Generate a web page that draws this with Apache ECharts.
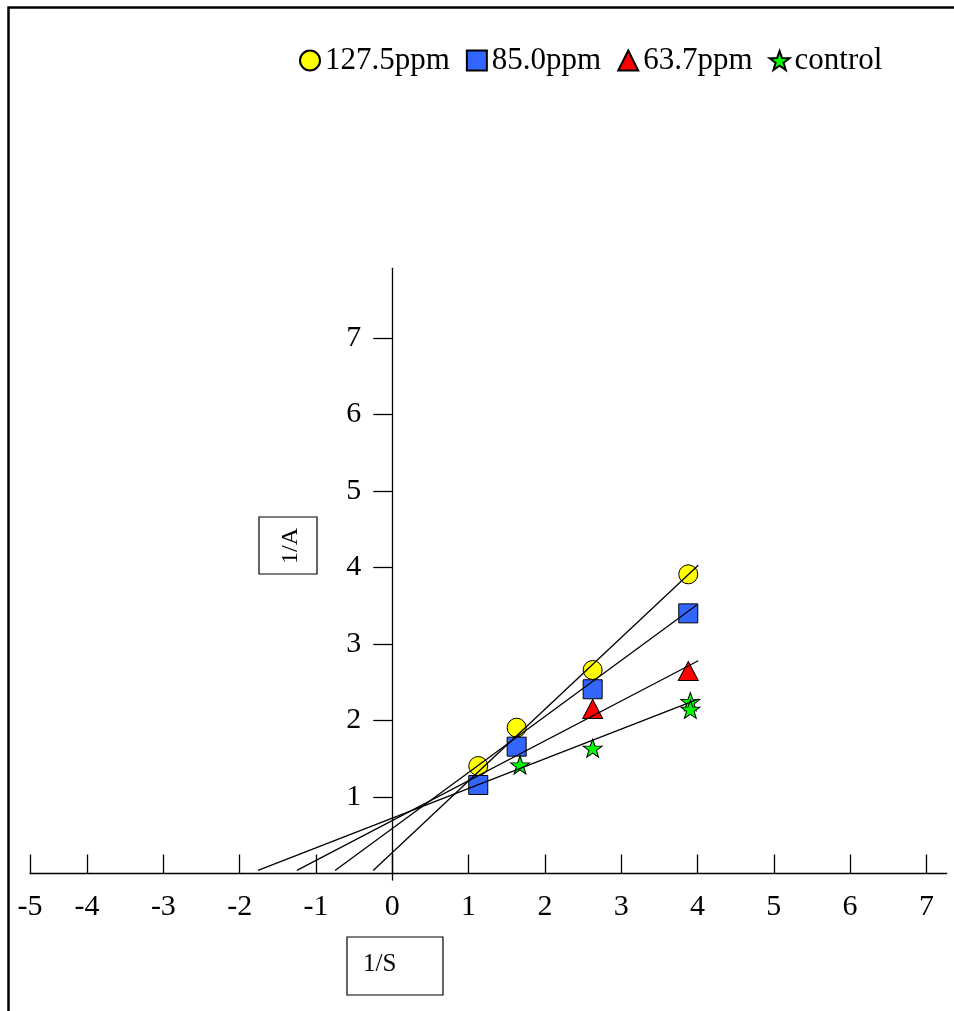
<!DOCTYPE html>
<html>
<head>
<meta charset="utf-8">
<title>1/A vs 1/S</title>
<script src="https://cdn.jsdelivr.net/npm/echarts@6/dist/echarts.min.js"></script>
<style>
  html, body { margin: 0; padding: 0; background: #fff; }
  #chart { width: 954px; height: 1011px; }
</style>
</head>
<body>
<div id="chart"></div>
<script>
// measured points (1/S, 1/A)
const x127 = [1.127, 1.630, 2.626, 3.879]
const y127 = [1.405, 1.906, 2.660, 3.910]
const x85 = [1.127, 1.630, 2.626, 3.879]
const y85 = [1.157, 1.658, 2.408, 3.400]
const x637 = [2.626, 3.879]
const y637 = [2.150, 2.647]
const xCtrl = [1.674, 2.626, 3.906, 3.906]
const yCtrl = [1.418, 1.637, 2.246, 2.146]

// fitted lines, two ends each
const fitX127 = [-0.25, 4.01]
const fitY127 = [0.04, 4.03]
const fitX85 = [-0.75, 3.99]
const fitY85 = [0.04, 3.51]
const fitX637 = [-1.25, 4.01]
const fitY637 = [0.04, 2.78]
const fitXCtrl = [-1.76, 4.01]
const fitYCtrl = [0.04, 2.28]

// axes
const xMin = -4.748
const xMax = 7.266
const yMin = -0.085
const yMax = 7.91
const xTickValues = [-4.748, -4, -3, -2, -1, 0, 1, 2, 3, 4, 5, 6, 7]
const xTickLabels = ['-5', '-4', '-3', '-2', '-1', '0', '1', '2', '3', '4', '5', '6', '7']
const yTickValues = [1, 2, 3, 4, 5, 6, 7]
const yTickLabels = ['1', '2', '3', '4', '5', '6', '7']

const seriesNames = ['127.5ppm', '85.0ppm', '63.7ppm', 'control']

const FONT = 'Liberation Serif'
const W = 954
const GRID_LEFT = 30
const GRID_RIGHT = 7.3

const pairs = (xs, ys) => xs.map((x, i) => [x, ys[i]])
const pickLabel = (values, labels) => (v) => {
  const i = values.findIndex((t) => Math.abs(t - v) < 1e-6)
  return i >= 0 ? labels[i] : ''
}

// y axis drawn at x = 0, moved in from the grid's left edge
const gridWidth = W - GRID_LEFT - GRID_RIGHT
const yAxisOffset = -((0 - xMin) / (xMax - xMin)) * gridWidth

// five point star as a path symbol
const starPath = (() => {
  let d = ''
  for (let i = 0; i < 10; i++) {
    const r = i % 2 === 0 ? 50 : 20
    const a = -Math.PI / 2 + (i * Math.PI) / 5
    const px = (50 + r * Math.cos(a)).toFixed(2)
    const py = (50 + r * Math.sin(a)).toFixed(2)
    d += (i === 0 ? 'M' : 'L') + px + ' ' + py + ' '
  }
  return 'path://' + d + 'Z'
})()

const markerBorder = { borderColor: '#000', borderWidth: 1, opacity: 1 }
const fitLine = { color: '#000', width: 1.3 }

const chart = echarts.init(document.getElementById('chart'))

const option = {
  animation: false,
  backgroundColor: '#fff',
  grid: {
    left: GRID_LEFT,
    right: GRID_RIGHT,
    top: 268.3,
    bottom: 131,
    containLabel: false,
    outerBoundsMode: 'none'
  },
  legend: {
    data: seriesNames,
    left: 299,
    top: 45,
    padding: 0,
    itemGap: 16,
    itemWidth: 20,
    itemHeight: 20,
    textStyle: { fontFamily: FONT, fontSize: 31, color: '#000' }
  },
  xAxis: {
    type: 'value',
    min: xMin,
    max: xMax,
    splitLine: { show: false },
    axisLine: { onZero: true, lineStyle: { color: '#000', width: 1.3 } },
    axisTick: {
      inside: true,
      length: 19,
      customValues: xTickValues,
      lineStyle: { color: '#000', width: 1.3 }
    },
    axisLabel: {
      customValues: xTickValues,
      margin: 12,
      fontFamily: FONT,
      fontSize: 30,
      color: '#000',
      hideOverlap: false,
      formatter: pickLabel(xTickValues, xTickLabels)
    }
  },
  yAxis: {
    type: 'value',
    min: yMin,
    max: yMax,
    position: 'left',
    offset: yAxisOffset,
    splitLine: { show: false },
    axisLine: { onZero: false, lineStyle: { color: '#000', width: 1.3 } },
    axisTick: {
      length: 19,
      customValues: yTickValues,
      lineStyle: { color: '#000', width: 1.3 }
    },
    axisLabel: {
      show: true,
      customValues: yTickValues,
      margin: 31,
      fontFamily: FONT,
      fontSize: 30,
      color: '#000',
      hideOverlap: false,
      formatter: pickLabel(yTickValues, yTickLabels)
    }
  },
  series: [
    {
      name: '127.5ppm',
      type: 'scatter',
      symbol: 'circle',
      symbolSize: 19,
      itemStyle: { color: '#ffff00', ...markerBorder },
      data: pairs(x127, y127)
    },
    {
      name: '85.0ppm',
      type: 'scatter',
      symbol: 'rect',
      symbolSize: 19,
      itemStyle: { color: '#3366ff', ...markerBorder },
      data: pairs(x85, y85)
    },
    {
      name: '63.7ppm',
      type: 'scatter',
      symbol: 'triangle',
      symbolSize: [20, 19],
      itemStyle: { color: '#ff0000', ...markerBorder },
      data: pairs(x637, y637)
    },
    {
      name: 'control',
      type: 'scatter',
      symbol: starPath,
      symbolSize: [19, 18],
      itemStyle: { color: '#00ff00', ...markerBorder },
      data: pairs(xCtrl, yCtrl)
    },
    // fitted lines sit over the markers
    { type: 'line', z: 3, symbol: 'none', silent: true, lineStyle: fitLine, data: pairs(fitX127, fitY127) },
    { type: 'line', z: 3, symbol: 'none', silent: true, lineStyle: fitLine, data: pairs(fitX85, fitY85) },
    { type: 'line', z: 3, symbol: 'none', silent: true, lineStyle: fitLine, data: pairs(fitX637, fitY637) },
    { type: 'line', z: 3, symbol: 'none', silent: true, lineStyle: fitLine, data: pairs(fitXCtrl, fitYCtrl) }
  ],
  graphic: [
    // outer frame, only left and top edges fall inside the canvas
    {
      type: 'rect',
      shape: { x: 8.5, y: 7.5, width: 3000, height: 3000 },
      style: { fill: null, stroke: '#000', lineWidth: 2.5 },
      silent: true
    },
    // y title box
    {
      type: 'rect',
      shape: { x: 259, y: 517, width: 58, height: 57 },
      style: { fill: '#fff', stroke: '#000', lineWidth: 1.2 },
      silent: true
    },
    {
      type: 'text',
      x: 291,
      y: 546,
      rotation: Math.PI / 2,
      style: {
        text: '1/A',
        fontFamily: FONT,
        fontSize: 24,
        fill: '#000',
        align: 'center',
        verticalAlign: 'middle'
      },
      silent: true
    },
    // x title box
    {
      type: 'rect',
      shape: { x: 347, y: 937, width: 96, height: 58 },
      style: { fill: '#fff', stroke: '#000', lineWidth: 1.2 },
      silent: true
    },
    {
      type: 'text',
      x: 363,
      y: 964,
      style: {
        text: '1/S',
        fontFamily: FONT,
        fontSize: 25,
        fill: '#000',
        align: 'left',
        verticalAlign: 'middle'
      },
      silent: true
    }
  ]
}

chart.setOption(option)
</script>
</body>
</html>
